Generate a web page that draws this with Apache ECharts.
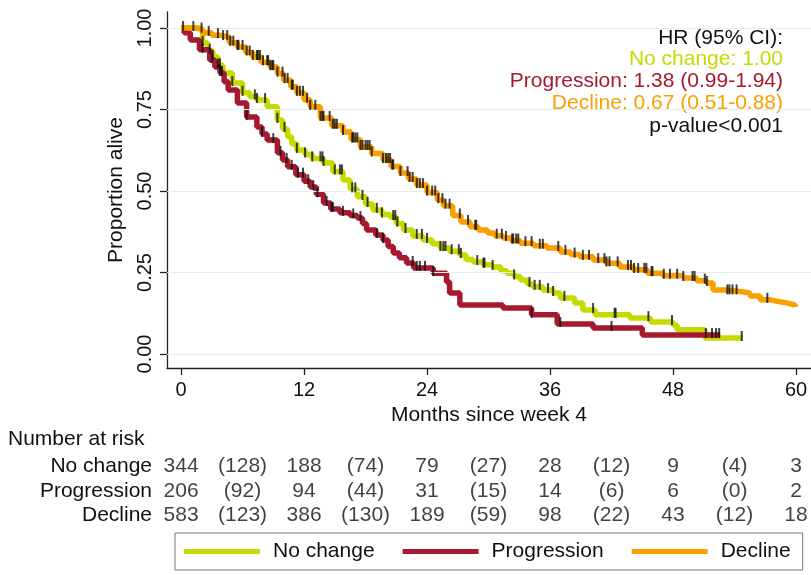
<!DOCTYPE html>
<html><head><meta charset="utf-8">
<script src="https://cdn.jsdelivr.net/npm/echarts@6/dist/echarts.min.js"></script>
<style>html,body{margin:0;padding:0;background:#fff}#c{width:811px;height:575px}</style>
</head><body><div id="c"></div>
<script>
const seriesNames = ['No change', 'Progression', 'Decline'];
const seriesColors = ['#c6da00', '#a61a30', '#fb9f00'];
const xTicks = [0, 12, 24, 36, 48, 60];
const yTicks = [0, 0.25, 0.5, 0.75, 1];

// Kaplan-Meier curves: [month, survival]
const noChangeCurve = [[0,1.0],[1.8,0.995],[2.1,0.954],[2.6,0.93],[3.1,0.911],[3.6,0.885],[4.1,0.862],[5.0,0.831],[6.0,0.801],[6.7,0.79],[7.4,0.779],[8.4,0.758],[9.4,0.718],[9.9,0.69],[10.4,0.666],[10.8,0.645],[11.3,0.626],[12.1,0.612],[12.8,0.60],[13.9,0.586],[14.8,0.56],[15.8,0.534],[16.5,0.505],[17.2,0.482],[18.0,0.46],[18.7,0.442],[19.6,0.428],[20.4,0.42],[21.0,0.40],[21.7,0.38],[22.6,0.362],[23.6,0.35],[24.5,0.338],[25.3,0.325],[26.2,0.315],[27.2,0.304],[27.8,0.29],[28.5,0.282],[29.5,0.274],[30.4,0.267],[31.2,0.255],[31.8,0.248],[32.5,0.238],[33.1,0.227],[33.8,0.215],[34.3,0.206],[35.3,0.196],[36.3,0.187],[37.0,0.172],[38.4,0.156],[39.2,0.135],[40.4,0.12],[43.8,0.11],[45.8,0.098],[48.0,0.089],[48.4,0.074],[51.1,0.049],[54.8,0.049]];
const progressionCurve = [[0,1.0],[0.3,0.985],[0.9,0.963],[1.8,0.933],[2.8,0.902],[3.3,0.88],[3.8,0.862],[4.2,0.835],[4.6,0.81],[5.5,0.77],[6.4,0.727],[7.4,0.696],[7.9,0.675],[8.4,0.656],[9.4,0.617],[9.9,0.595],[10.4,0.574],[11.2,0.55],[12.0,0.53],[12.6,0.512],[13.2,0.49],[13.9,0.463],[14.6,0.445],[15.5,0.433],[16.5,0.425],[17.2,0.417],[17.7,0.40],[18.1,0.38],[19.0,0.365],[19.7,0.35],[20.2,0.33],[20.7,0.31],[21.3,0.295],[22.0,0.279],[22.7,0.264],[24.6,0.248],[25.9,0.221],[26.2,0.187],[27.2,0.15],[31.4,0.141],[34.2,0.12],[36.7,0.092],[40.2,0.08],[45.0,0.058],[52.6,0.058]];
const declineCurve = [[0,1.0],[1.5,0.995],[2.1,0.985],[3.0,0.978],[3.8,0.972],[4.7,0.955],[5.5,0.942],[6.3,0.925],[7.0,0.911],[7.8,0.895],[8.7,0.88],[9.4,0.86],[10.0,0.84],[10.7,0.82],[11.3,0.801],[12.0,0.78],[12.6,0.758],[13.6,0.724],[14.7,0.70],[15.8,0.681],[16.6,0.658],[17.5,0.635],[18.6,0.615],[19.7,0.595],[20.5,0.575],[21.4,0.555],[22.2,0.537],[23.0,0.518],[24.0,0.495],[25.0,0.472],[25.6,0.455],[26.5,0.425],[27.3,0.405],[28.2,0.39],[29.0,0.38],[29.9,0.371],[30.6,0.363],[31.4,0.356],[32.2,0.348],[33.1,0.34],[34.4,0.332],[35.7,0.325],[37.0,0.313],[38.0,0.305],[38.9,0.298],[40.2,0.288],[41.5,0.278],[42.8,0.267],[44.1,0.258],[45.5,0.248],[47.0,0.24],[49.0,0.233],[50.3,0.225],[51.3,0.218],[51.9,0.196],[53.0,0.192],[54.5,0.187],[55.5,0.178],[56.5,0.166],[57.5,0.16],[58.4,0.156],[59.2,0.15],[59.9,0.144]];

// Censoring times (months)
const noChangeCensor = [2.1,2.8,3.1,3.6,3.8,5.0,6.0,7.2,7.4,8.2,9.4,10.1,11.3,12.1,12.8,13.6,13.8,13.9,15.0,15.5,15.7,16.7,17.0,17.7,18.2,19.1,19.6,20.7,20.9,21.1,21.9,23.0,23.5,24.0,25.3,25.6,25.8,26.4,27.1,27.3,28.9,29.5,29.6,30.4,32.5,34.0,34.5,35.0,35.8,36.3,37.4,40.2,42.3,42.4,45.6,47.9,54.7];
const progressionCensor = [2.1,3.0,3.8,4.0,6.4,7.9,9.0,9.7,10.3,10.8,11.4,11.9,12.4,12.9,13.3,14.2,14.7,14.8,15.8,16.8,17.5,19.1,19.7,22.6,23.0,23.3,23.8,24.6,34.2,37.0,42.0,51.2,51.8,52.2,52.5];
const declineCensor = [0.2,1.2,2.0,2.7,3.6,4.1,4.5,4.8,5.1,5.5,5.6,6.0,6.4,6.7,7.0,7.4,7.5,7.7,8.0,8.4,8.5,8.7,8.9,9.0,9.4,9.9,10.1,10.4,10.8,10.9,11.3,11.6,11.9,12.3,12.6,13.1,13.6,13.8,13.9,14.5,14.8,15.0,15.2,15.8,16.7,16.8,17.0,17.2,17.5,17.7,18.0,18.2,18.4,18.6,19.7,20.0,20.2,20.4,20.6,20.7,21.4,22.1,22.3,22.6,23.0,23.3,23.6,24.0,24.5,24.8,25.1,25.5,25.8,26.2,27.2,28.0,28.7,28.8,30.8,31.3,31.7,32.3,32.4,32.7,32.9,33.6,34.2,35.0,35.3,36.8,37.5,38.4,39.2,39.8,40.7,41.3,41.5,41.8,42.6,43.6,43.9,44.2,44.6,45.2,45.4,45.9,46.0,47.1,47.7,48.4,49.0,49.9,50.1,51.1,51.3,53.3,53.5,53.8,54.2,57.2];

// Number at risk table
const riskTimes = [0,6,12,18,24,30,36,42,48,54,60];
const noChangeRisk = ['344','(128)','188','(74)','79','(27)','28','(12)','9','(4)','3'];
const progressionRisk = ['206','(92)','94','(44)','31','(15)','14','(6)','6','(0)','2'];
const declineRisk = ['583','(123)','386','(130)','189','(59)','98','(22)','43','(12)','18'];

// Annotation
const hrTitle = 'HR (95% CI):';
const hrLines = ['No change: 1.00', 'Progression: 1.38 (0.99-1.94)', 'Decline: 0.67 (0.51-0.88)'];
const pText = 'p-value<0.001';

const FONT = '"Liberation Sans", Arial, Helvetica, sans-serif';
const FS = 21;
const curves = [noChangeCurve, progressionCurve, declineCurve];
const censors = [noChangeCensor, progressionCensor, declineCensor];
const risks = [noChangeRisk, progressionRisk, declineRisk];

function survAt(curve, t) {
  let s = curve[0][1];
  for (const p of curve) { if (p[0] <= t) s = p[1]; else break; }
  return s;
}

const X_MIN = -1.37, X_MAX = 61.46, Y_MIN = -0.043, Y_MAX = 1.049;

const series = [];
series.push({
  type: 'line', xAxisIndex: 0, yAxisIndex: 0, data: [], z: 1, silent: true,
  markLine: { silent: true, symbol: 'none', label: { show: false },
    lineStyle: { color: '#e4edf2', width: 1.2, type: 'solid' },
    data: yTicks.map(v => ({ yAxis: v })) }
});
curves.forEach((c, i) => {
  series.push({
    name: seriesNames[i], type: 'line', step: 'end', data: c, showSymbol: false,
    xAxisIndex: 0, yAxisIndex: 0, z: 3 + i,
    lineStyle: { color: seriesColors[i], width: 5.5 }, itemStyle: { color: seriesColors[i] }
  });
});
censors.forEach((cs, i) => {
  series.push({
    type: 'scatter', xAxisIndex: 0, yAxisIndex: 0, z: 10, silent: true,
    symbol: 'rect', symbolSize: [2, 10], symbolOffset: [0, -2],
    itemStyle: { color: '#111' },
    data: cs.map(t => [t, survAt(curves[i], t)])
  });
});
risks.forEach((r, i) => {
  series.push({
    type: 'scatter', xAxisIndex: 1, yAxisIndex: 1, symbolSize: 0, silent: true,
    label: { show: true, position: 'inside', formatter: p => p.value[2],
      fontSize: FS, fontFamily: FONT, color: '#111' },
    data: riskTimes.map((t, k) => [t, seriesNames[i], r[k]])
  });
});

const chart = echarts.init(document.getElementById('c'), null, { renderer: 'canvas' });
chart.setOption({
  animation: false,
  backgroundColor: '#fff',
  textStyle: { fontFamily: FONT },
  grid: [
    { left: 167, right: 0, top: 12, height: 356 },
    { left: 167, right: 0, top: 454, height: 74 }
  ],
  xAxis: [
    { type: 'value', gridIndex: 0, min: X_MIN, max: X_MAX,
      name: 'Months since week 4', nameLocation: 'middle', nameGap: 32,
      nameTextStyle: { fontSize: FS, color: '#111', fontFamily: FONT },
      axisLine: { show: true, onZero: false, lineStyle: { color: '#222', width: 1.3 } },
      axisTick: { show: true, customValues: xTicks, length: 7, lineStyle: { color: '#222', width: 1.3 } },
      axisLabel: { customValues: xTicks, fontSize: 20, color: '#111', margin: 12, fontFamily: FONT },
      splitLine: { show: false } },
    { type: 'value', gridIndex: 1, min: X_MIN, max: X_MAX, show: false }
  ],
  yAxis: [
    { type: 'value', gridIndex: 0, min: Y_MIN, max: Y_MAX,
      name: 'Proportion alive', nameLocation: 'middle', nameGap: 31,
      nameTextStyle: { fontSize: FS, color: '#111', fontFamily: FONT },
      axisLine: { show: true, onZero: false, lineStyle: { color: '#222', width: 1.3 } },
      axisTick: { show: true, customValues: yTicks, length: 7, lineStyle: { color: '#222', width: 1.3 } },
      axisLabel: { customValues: yTicks, rotate: 90, fontSize: 20, color: '#111', margin: 12,
        fontFamily: FONT, formatter: v => v.toFixed(2) },
      splitLine: { show: false } },
    { type: 'category', gridIndex: 1, inverse: true, data: seriesNames,
      axisLine: { show: false }, axisTick: { show: false }, splitLine: { show: false },
      axisLabel: { interval: 0, fontSize: FS, color: '#111', margin: 15, fontFamily: FONT } }
  ],
  legend: {
    data: seriesNames, left: 175, top: 533, icon: 'rect', itemWidth: 76, itemHeight: 5,
    itemGap: 28, padding: [8, 12, 8, 9], borderColor: '#777', borderWidth: 1,
    textStyle: { fontSize: FS, color: '#111', fontFamily: FONT, padding: [0, 0, 0, 8] }
  },
  graphic: [
    { type: 'text', left: 8, top: 429, style: { text: 'Number at risk', font: FS + 'px ' + FONT, fill: '#111' } },
    { type: 'text', x: 783, y: 38, style: { text: hrTitle, font: FS + 'px ' + FONT, fill: '#111', textAlign: 'right', textVerticalAlign: 'middle' } },
    { type: 'text', x: 783, y: 59, style: { text: hrLines[0], font: FS + 'px ' + FONT, fill: seriesColors[0], textAlign: 'right', textVerticalAlign: 'middle' } },
    { type: 'text', x: 783, y: 81, style: { text: hrLines[1], font: FS + 'px ' + FONT, fill: seriesColors[1], textAlign: 'right', textVerticalAlign: 'middle' } },
    { type: 'text', x: 783, y: 103, style: { text: hrLines[2], font: FS + 'px ' + FONT, fill: seriesColors[2], textAlign: 'right', textVerticalAlign: 'middle' } },
    { type: 'text', x: 783, y: 126, style: { text: pText, font: FS + 'px ' + FONT, fill: '#111', textAlign: 'right', textVerticalAlign: 'middle' } }
  ],
  series: series
});
</script></body></html>
